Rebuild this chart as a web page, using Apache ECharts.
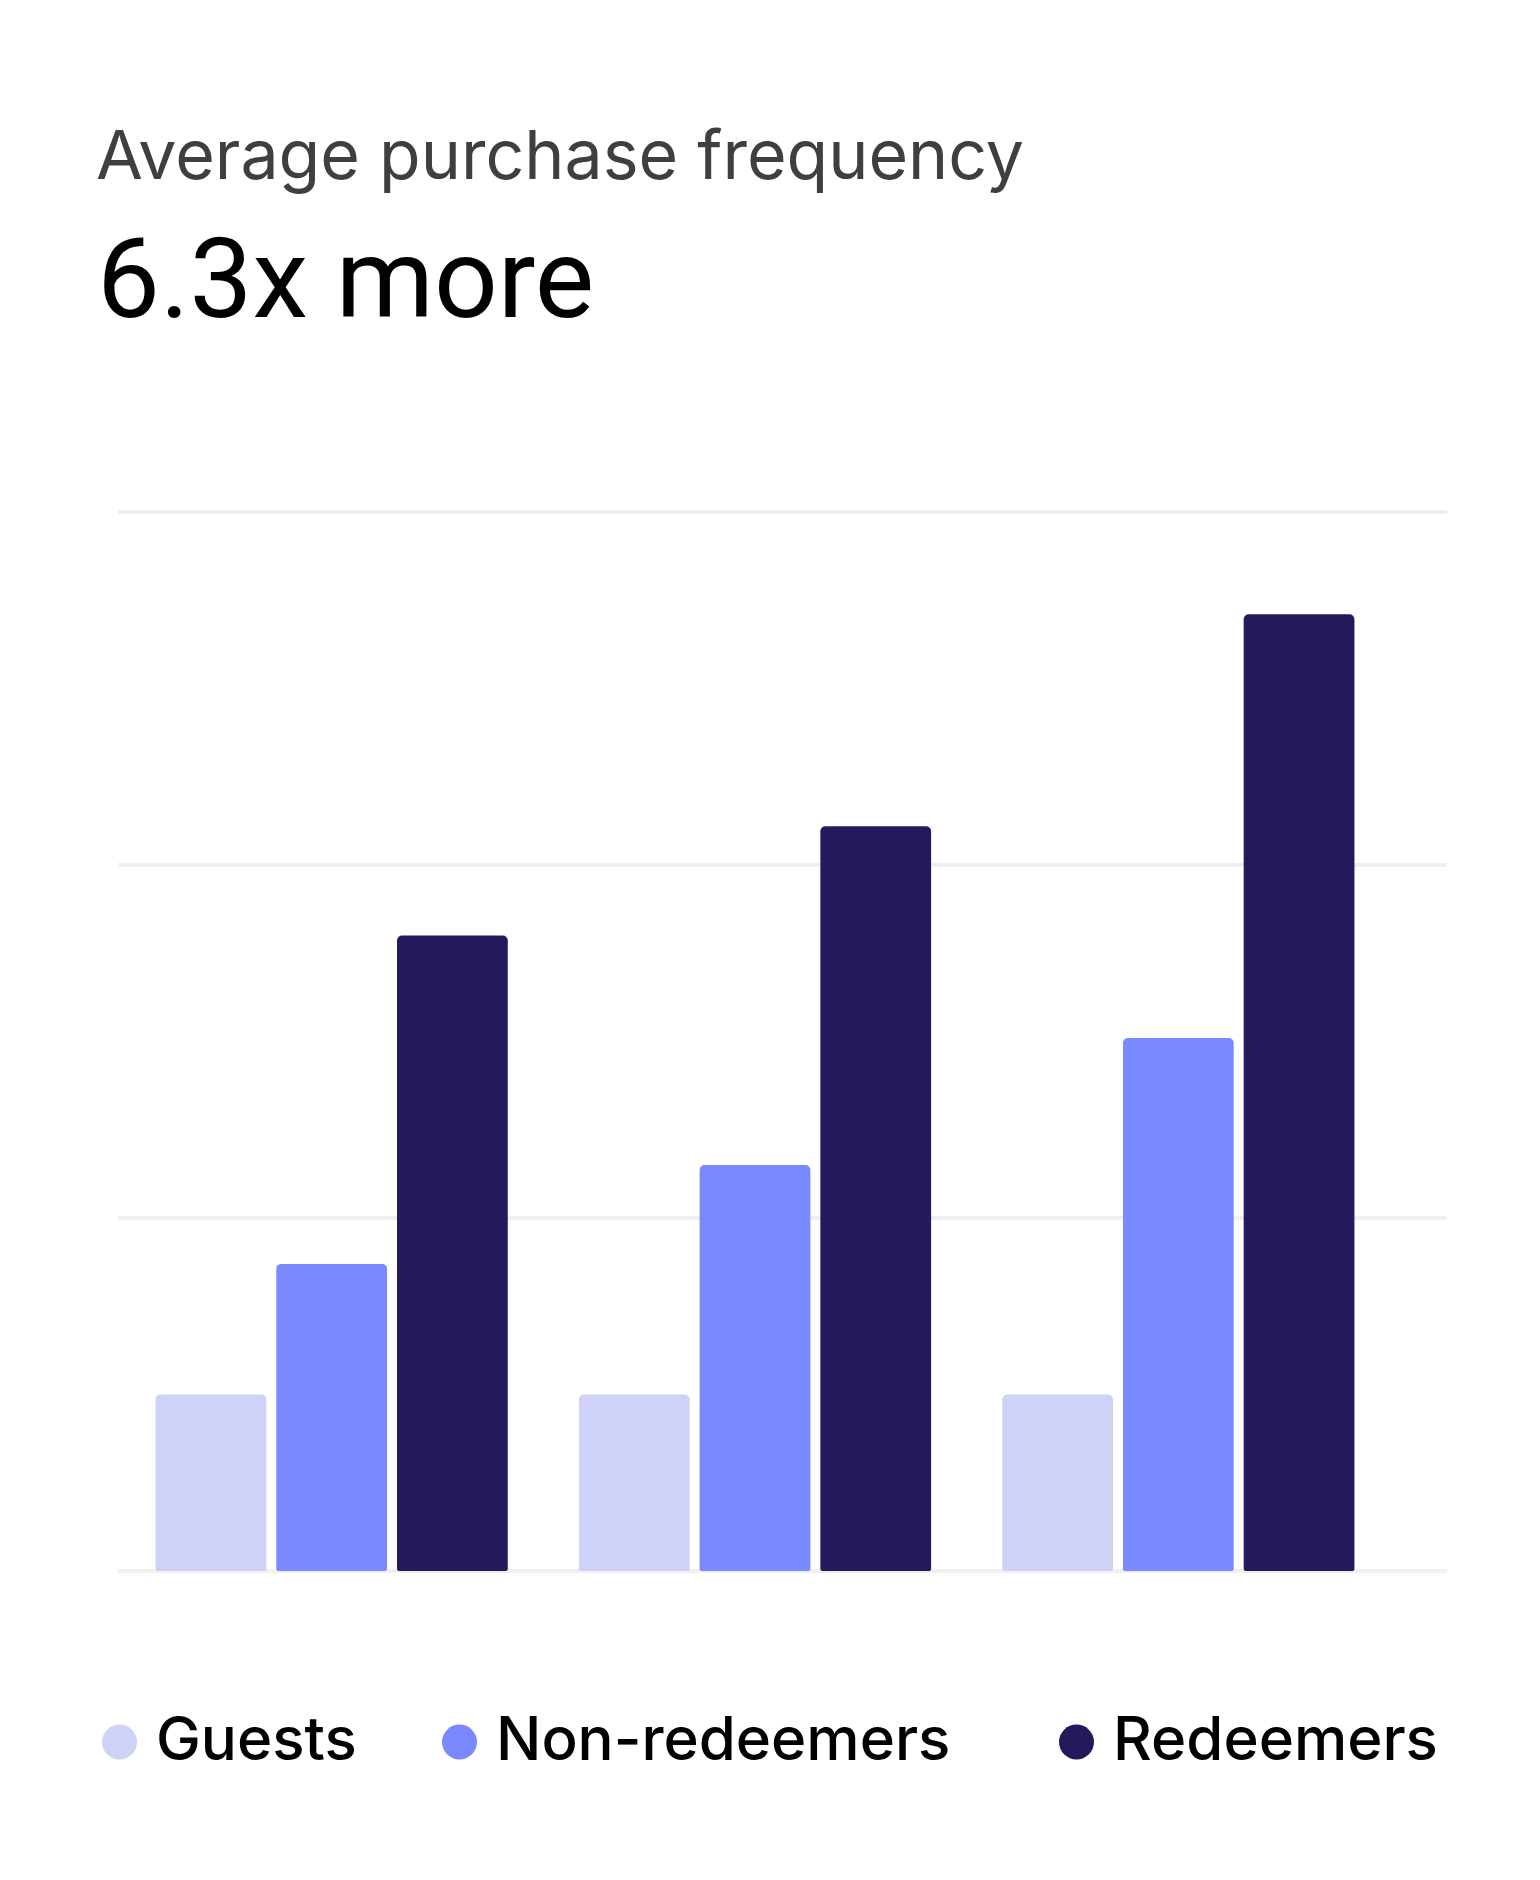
<!DOCTYPE html>
<html>
<head>
<meta charset="utf-8">
<title>Average purchase frequency</title>
<script src="https://cdn.jsdelivr.net/npm/echarts@6/dist/echarts.min.js"></script>
<style>
  html, body { margin: 0; padding: 0; background: #ffffff; }
  #main { width: 1540px; height: 1880px; }
</style>
</head>
<body>
<div id="main"></div>
<script>
// data (one unit = one gridline step)
const categories = ['Group 1', 'Group 2', 'Group 3'];
const seriesNames = ['Guests', 'Non-redeemers', 'Redeemers'];
const guests = [0.5, 0.5, 0.5];
const nonRedeemers = [0.87, 1.15, 1.51];
const redeemers = [1.8, 2.11, 2.71];
const yTicks = [0, 1, 2, 3];

const colors = ['#cdd2f6', '#7b89ff', '#25195c'];
const font = 'Inter, "Noto Sans", sans-serif';

const chartDom = document.getElementById('main');
const myChart = echarts.init(chartDom, null, { renderer: 'canvas' });

// one legend per item so each sits where it does in the picture
const legendLefts = [102, 442, 1059];
const legends = seriesNames.map((name, i) => ({
  data: [name],
  left: legendLefts[i],
  top: 1712,
  padding: 0,
  icon: 'circle',
  itemWidth: 35,
  itemHeight: 35,
  selectedMode: false,
  textStyle: {
    fontFamily: font,
    fontSize: 60,
    fontWeight: 500,
    color: '#000000',
    lineHeight: 59,
    padding: [0, 0, 0, 14]
  }
}));

const barStyle = (c) => ({ color: c, borderRadius: [5, 5, 2, 2] });

const option = {
  backgroundColor: '#ffffff',
  animation: false,
  title: [
    {
      text: 'Average purchase frequency',
      left: 96,
      top: 125,
      padding: 0,
      textStyle: { fontFamily: font, fontSize: 68, fontWeight: 400, color: '#3e3f42' }
    },
    {
      text: '6.3x more',
      left: 97,
      top: 233,
      padding: 0,
      textStyle: { fontFamily: 'Roboto, Inter, sans-serif', fontSize: 112, fontWeight: 400, color: '#000000' }
    }
  ],
  legend: legends,
  grid: [
    // background grid: only carries the long gridlines
    { left: 118, right: 93, top: 512, bottom: 309 },
    // bar grid
    { left: 120, right: 150, top: 512, bottom: 309 }
  ],
  xAxis: [
    { type: 'category', gridIndex: 0, data: categories, show: false },
    { type: 'category', gridIndex: 1, data: categories, show: false }
  ],
  yAxis: [
    {
      type: 'value', gridIndex: 0,
      min: yTicks[0], max: yTicks[yTicks.length - 1], interval: 1,
      axisLabel: { show: false }, axisLine: { show: false }, axisTick: { show: false },
      splitLine: { show: true, lineStyle: { color: '#f0f0f0', width: 4 } }
    },
    {
      type: 'value', gridIndex: 1,
      min: yTicks[0], max: yTicks[yTicks.length - 1], interval: 1,
      show: false, splitLine: { show: false }
    }
  ],
  series: [
    {
      name: seriesNames[0], type: 'bar', xAxisIndex: 1, yAxisIndex: 1,
      data: guests, itemStyle: barStyle(colors[0]),
      barGap: '9%', barCategoryGap: '16.8%'
    },
    {
      name: seriesNames[1], type: 'bar', xAxisIndex: 1, yAxisIndex: 1,
      data: nonRedeemers, itemStyle: barStyle(colors[1])
    },
    {
      name: seriesNames[2], type: 'bar', xAxisIndex: 1, yAxisIndex: 1,
      data: redeemers, itemStyle: barStyle(colors[2])
    }
  ]
};

option && myChart.setOption(option);
</script>
</body>
</html>
